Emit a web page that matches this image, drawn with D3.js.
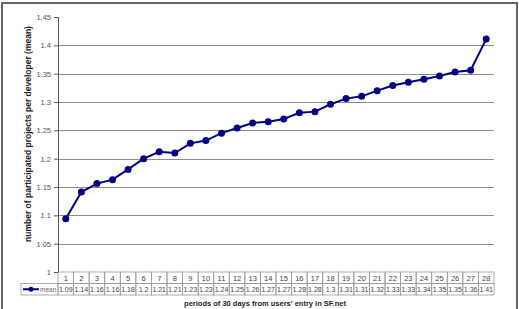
<!DOCTYPE html>
<html>
<head>
  <meta charset="utf-8">
  <style>
    body { margin: 0; background: #fff; }
    svg { display: block; font-family: "Liberation Sans", Arial, sans-serif; }
    .grid line { stroke: #8a8a8a; stroke-width: 1px; }
  </style>
</head>
<body>
  <svg id="chart" width="519" height="309"></svg>
  <script src="https://d3js.org/d3.v7.min.js"></script>
  <script>
    // data
    var periods = d3.range(1, 29).map(String);
    var meanValues = [1.094, 1.141, 1.156, 1.163, 1.181, 1.200, 1.212, 1.210, 1.227, 1.232,
      1.245, 1.254, 1.263, 1.265, 1.270, 1.281, 1.283, 1.296, 1.306, 1.310,
      1.320, 1.329, 1.335, 1.340, 1.346, 1.353, 1.356, 1.411];
    var tableLabels = ["1.09", "1.14", "1.16", "1.16", "1.18", "1.2", "1.21", "1.21", "1.23", "1.23",
      "1.24", "1.25", "1.26", "1.27", "1.27", "1.28", "1.28", "1.3", "1.31", "1.31",
      "1.32", "1.33", "1.33", "1.34", "1.35", "1.35", "1.36", "1.41"];
    var yTicks = [1, 1.05, 1.1, 1.15, 1.2, 1.25, 1.3, 1.35, 1.4, 1.45];

    var svg = d3.select("#chart");
    var margin = { top: 17, left: 58, right: 25, bottom: 38 };
    var height = 272 - margin.top;

    // outer frame
    svg.append("rect")
      .attr("x", 2).attr("y", 3).attr("width", 515).attr("height", 320)
      .attr("fill", "#fff").attr("stroke", "#666").attr("stroke-width", 2);

    var g = svg.append("g").attr("transform", "translate(" + margin.left + "," + margin.top + ")");

    var x = d3.scaleBand().domain(periods).range([0, 436]);
    var y = d3.scaleLinear().domain([1, 1.45]).range([height, 0]);

    // gridlines (no line at top value)
    g.append("g").attr("class", "grid")
      .selectAll("line")
      .data(yTicks.filter(function (d) { return d > 1 && d < 1.45; }))
      .enter().append("line")
      .attr("x1", 0).attr("x2", x.range()[1])
      .attr("y1", function (d) { return Math.round(y(d)) + 0.5; })
      .attr("y2", function (d) { return Math.round(y(d)) + 0.5; });

    var yAxis = g.append("g")
      .call(d3.axisLeft(y).tickValues(yTicks).tickSize(4).tickFormat(function (d) { return String(+d.toFixed(2)); }));
    yAxis.select(".domain").attr("stroke", "#555");
    yAxis.selectAll(".tick line").attr("stroke", "#555");
    yAxis.selectAll(".tick text").attr("font-size", 7.5).attr("fill", "#555").attr("x", -7).attr("font-family", "Liberation Sans, Arial, sans-serif");

    // line and markers
    var line = d3.line()
      .x(function (d, i) { return x(periods[i]) + x.bandwidth() / 2; })
      .y(function (d) { return y(d); });

    g.append("path")
      .datum(meanValues)
      .attr("d", line)
      .attr("fill", "none")
      .attr("stroke", "#000080")
      .attr("stroke-width", 2);

    g.selectAll(".dot")
      .data(meanValues)
      .enter().append("circle")
      .attr("class", "dot")
      .attr("cx", function (d, i) { return x(periods[i]) + x.bandwidth() / 2; })
      .attr("cy", function (d) { return y(d); })
      .attr("r", 3.5)
      .attr("fill", "#000080");

    // data table below axis
    var row1 = height, rowH = 11.5;
    var tbl = g.append("g").attr("class", "table");
    var legendX = 21 - margin.left;

    [0, 1].forEach(function (r) {
      tbl.selectAll(".cell" + r)
        .data(periods)
        .enter().append("rect")
        .attr("x", function (d) { return x(d); })
        .attr("y", row1 + r * rowH)
        .attr("width", x.bandwidth())
        .attr("height", rowH)
        .attr("fill", "none").attr("stroke", "#999").attr("stroke-width", 0.8);
    });

    tbl.append("rect")
      .attr("x", legendX).attr("y", row1 + rowH)
      .attr("width", -legendX).attr("height", rowH)
      .attr("fill", "none").attr("stroke", "#999").attr("stroke-width", 0.8);

    tbl.selectAll(".lab1")
      .data(periods)
      .enter().append("text")
      .attr("x", function (d) { return x(d) + x.bandwidth() / 2; })
      .attr("y", row1 + rowH / 2 + 3)
      .attr("text-anchor", "middle")
      .attr("font-size", 7.5).attr("fill", "#444")
      .text(function (d) { return d; });

    tbl.selectAll(".lab2")
      .data(tableLabels)
      .enter().append("text")
      .attr("x", function (d, i) { return x(periods[i]) + x.bandwidth() / 2; })
      .attr("y", row1 + rowH * 1.5 + 3)
      .attr("text-anchor", "middle")
      .attr("font-size", 7).attr("fill", "#444")
      .text(function (d) { return d; });

    // legend key in table
    var ly = row1 + rowH * 1.5;
    tbl.append("line")
      .attr("x1", legendX + 2).attr("x2", legendX + 18)
      .attr("y1", ly).attr("y2", ly)
      .attr("stroke", "#000080").attr("stroke-width", 2);
    tbl.append("circle")
      .attr("cx", legendX + 10).attr("cy", ly).attr("r", 2.5).attr("fill", "#000080");
    tbl.append("text")
      .attr("x", legendX + 19).attr("y", ly + 2.5)
      .attr("font-size", 6.5).attr("fill", "#666")
      .text("mean");

    // axis titles
    svg.append("text")
      .attr("x", 265).attr("y", 306)
      .attr("text-anchor", "middle")
      .attr("font-size", 7.5).attr("font-weight", "bold").attr("fill", "#222")
      .text("periods of 30 days from users' entry in SF.net");

    svg.append("text")
      .attr("transform", "translate(31,134) rotate(-90)")
      .attr("text-anchor", "middle")
      .attr("font-size", 8.5).attr("font-weight", "bold").attr("fill", "#222")
      .text("number of participated projects per developer (mean)");
  </script>
</body>
</html>
